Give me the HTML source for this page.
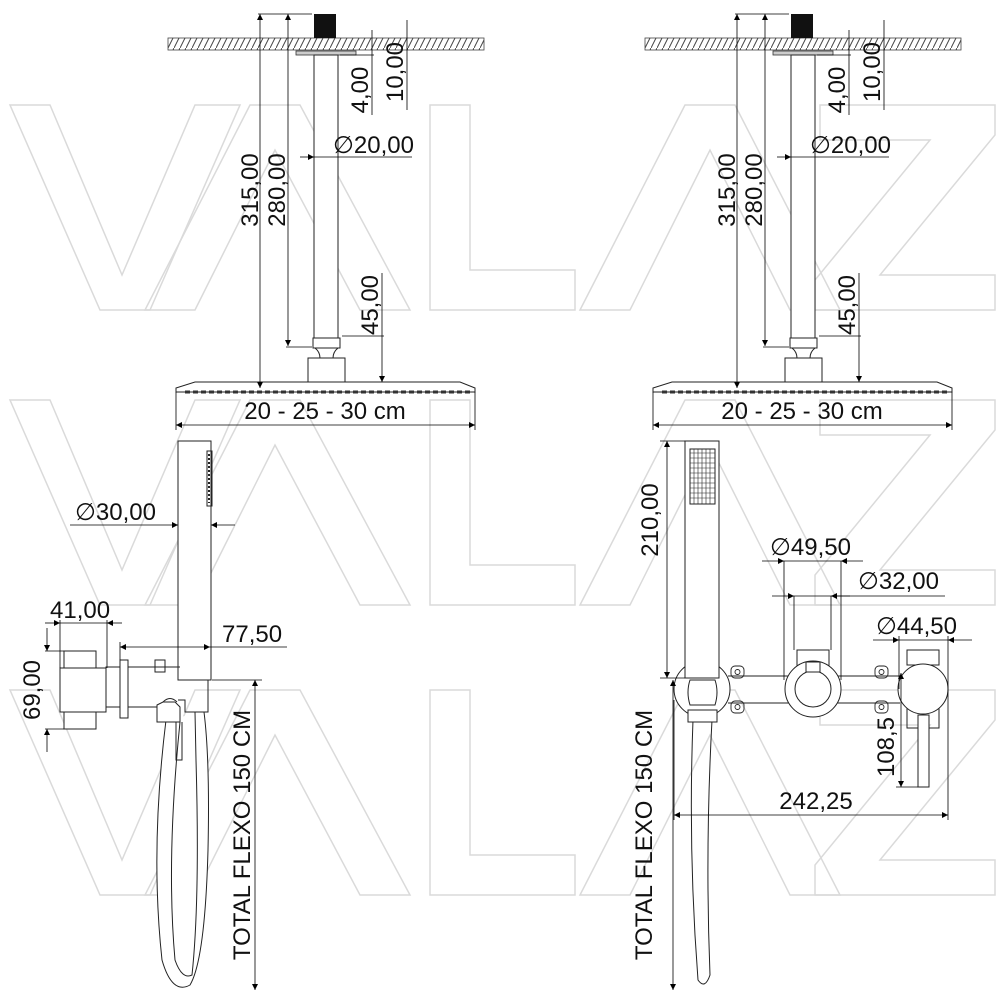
<!DOCTYPE html>
<html><head><meta charset="utf-8"><style>
html,body{margin:0;padding:0;background:#fff;width:1000px;height:1000px;overflow:hidden}
svg{display:block}
text{font-family:"Liberation Sans",sans-serif;fill:#111}
</style></head><body>
<svg width="1000" height="1000" viewBox="0 0 1000 1000" xmlns="http://www.w3.org/2000/svg">
<defs>
<pattern id="h" width="6" height="12" patternUnits="userSpaceOnUse"><path d="M6,0 L0,12" stroke="#444" stroke-width="1"/></pattern>
<marker id="a" viewBox="0 0 10 10" refX="10" refY="5" markerWidth="14" markerHeight="6" orient="auto-start-reverse" markerUnits="userSpaceOnUse"><path d="M0,0 L10,5 L0,10z" fill="#000"/></marker>
<g id="wm" fill="none" stroke="#dadada" stroke-width="1.5">
<polygon points="10,0 50,0 122,170 195,0 240,0 150,205 100,205"/>
<polygon points="145,205 250,0 300,0 410,205 360,205 275,45 195,205"/>
<polygon points="430,0 470,0 470,165 575,165 575,205 430,205"/>
<polygon points="580,205 685,0 735,0 840,205 790,205 710,45 630,205"/>
<polygon points="820,0 995,0 995,30 880,170 995,170 995,205 815,205 815,175 930,35 820,35"/>
</g>
<g id="top">
<rect x="168" y="38" width="316" height="12" fill="url(#h)" stroke="#444" stroke-width="0.8"/>
<rect x="314" y="14" width="22" height="24" fill="#111"/>
<rect x="296" y="51" width="60" height="4" fill="#ccc" stroke="#333" stroke-width="0.8"/>
<g fill="none" stroke="#222" stroke-width="1">
<rect x="314" y="55" width="24" height="283" fill="#fff"/>
<rect x="313" y="338" width="27" height="10"/>
<path d="M315,348 Q320,352 320,358 M338,348 Q333,352 333,358"/>
<rect x="308" y="358" width="37" height="24"/>
<path d="M176,392 L176,388 L195,382 L460,382 L475,388 L475,392 Z"/>
<path d="M185,392 L470,392" stroke-dasharray="5,3" stroke-width="3" stroke="#333"/>
</g>
<g stroke="#000" stroke-width="0.8" fill="none">
<line x1="258" y1="14" x2="312" y2="14"/>
<line x1="260" y1="14" x2="260" y2="388" marker-start="url(#a)" marker-end="url(#a)"/>
<line x1="288" y1="14" x2="288" y2="346" marker-start="url(#a)" marker-end="url(#a)"/>
<line x1="286" y1="347" x2="312" y2="347"/>
<line x1="340" y1="55" x2="374" y2="55"/>
<line x1="372" y1="30" x2="372" y2="115"/>
<line x1="407" y1="20" x2="407" y2="110"/>
<line x1="314" y1="157" x2="412" y2="157"/>
<line x1="300" y1="157" x2="314" y2="157" marker-end="url(#a)"/>
<line x1="342" y1="336" x2="384" y2="336"/>
<line x1="382" y1="273" x2="382" y2="382" marker-end="url(#a)"/>
<line x1="176" y1="392" x2="176" y2="430"/>
<line x1="475" y1="392" x2="475" y2="430"/>
<line x1="176" y1="425" x2="475" y2="425" marker-start="url(#a)" marker-end="url(#a)"/>
</g>
<text x="258" y="190" font-size="24" transform="rotate(-90 258 190)" text-anchor="middle">315,00</text>
<text x="285" y="190" font-size="24" transform="rotate(-90 285 190)" text-anchor="middle">280,00</text>
<text x="368" y="90" font-size="24" transform="rotate(-90 368 90)" text-anchor="middle">4,00</text>
<text x="403" y="72" font-size="24" transform="rotate(-90 403 72)" text-anchor="middle">10,00</text>
<text x="333" y="153" font-size="24">∅20,00</text>
<text x="378" y="305" font-size="24" transform="rotate(-90 378 305)" text-anchor="middle">45,00</text>
<text x="325" y="419" font-size="24" text-anchor="middle">20 - 25 - 30 cm</text>
</g>
</defs>
<use href="#wm" x="0" y="105"/>
<use href="#wm" x="0" y="400"/>
<use href="#wm" x="0" y="690"/>
<use href="#top"/>
<use href="#top" x="477"/>

<!-- bottom left -->
<g fill="none" stroke="#222" stroke-width="1">
<path d="M166,720 Q150,850 162,960 Q172,995 190,985 Q205,960 208,850 Q210,760 204,712" fill="#fff"/>
<path d="M180,722 Q166,860 175,960 Q182,980 192,975 Q200,900 196,760 L195,712"/>
<rect x="178" y="441" width="33" height="239" fill="#fff"/>
<rect x="207" y="451" width="5" height="55"/>
<path d="M209,454 V503" stroke-dasharray="2,2" stroke-width="2"/>
<rect x="64" y="651" width="32" height="17" fill="#fff"/>
<rect x="64" y="712" width="32" height="17" fill="#fff"/>
<rect x="60" y="668" width="46" height="44" fill="#fff"/>
<rect x="106" y="667" width="14" height="40"/>
<rect x="120" y="660" width="8" height="58" fill="#fff"/>
<line x1="128" y1="667" x2="180" y2="667"/>
<line x1="128" y1="707" x2="157" y2="707"/>
<rect x="155" y="660" width="10" height="12"/>
<path d="M178,680 H208 V712 H185 V700 H178"/>
<path d="M157,705 L163,702 L175,702 L180,707 L180,722 L157,722 Z" fill="#fff"/>
<path d="M163,702 Q170,695 177,702"/>
<path d="M176,722 V760 H182 V722"/>
</g>
<g stroke="#000" stroke-width="0.8" fill="none">
<line x1="70" y1="525" x2="178" y2="525" marker-end="url(#a)"/>
<line x1="235" y1="525" x2="211" y2="525" marker-end="url(#a)"/>
<line x1="45" y1="623" x2="60" y2="623" marker-end="url(#a)"/>
<line x1="60" y1="623" x2="107" y2="623"/>
<line x1="122" y1="623" x2="107" y2="623" marker-end="url(#a)"/>
<line x1="60" y1="620" x2="60" y2="668"/>
<line x1="107" y1="620" x2="107" y2="668"/>
<line x1="45" y1="651" x2="64" y2="651"/>
<line x1="45" y1="729" x2="64" y2="729"/>
<line x1="47" y1="628" x2="47" y2="651" marker-end="url(#a)"/>
<line x1="47" y1="752" x2="47" y2="729" marker-end="url(#a)"/>
<line x1="120" y1="647" x2="210" y2="647" marker-start="url(#a)" marker-end="url(#a)"/>
<line x1="210" y1="647" x2="287" y2="647"/>
<line x1="120" y1="642" x2="120" y2="660"/>
<line x1="212" y1="680" x2="262" y2="680"/>
<line x1="255" y1="680" x2="255" y2="990" marker-start="url(#a)" marker-end="url(#a)"/>
</g>
<text x="75" y="520" font-size="24">∅30,00</text>
<text x="50" y="618" font-size="24">41,00</text>
<text x="222" y="642" font-size="24">77,50</text>
<text x="40" y="690" font-size="24" transform="rotate(-90 40 690)" text-anchor="middle">69,00</text>
<text x="250" y="835" font-size="24" transform="rotate(-90 250 835)" text-anchor="middle">TOTAL FLEXO 150 CM</text>

<!-- bottom right -->
<g fill="none" stroke="#222" stroke-width="1">
<path d="M693,720 Q688,850 698,980 Q705,990 710,975 Q705,850 712,720"/>
<line x1="728" y1="676" x2="900" y2="676"/>
<line x1="728" y1="703" x2="900" y2="703"/>
<circle cx="702" cy="689" r="28" fill="#fff"/>
<path d="M690,680 Q686,692 690,705 H715 Q719,692 715,680 Z"/>
<rect x="688" y="710" width="29" height="12" fill="#fff"/>
<rect x="685" y="441" width="34" height="237" fill="#fff"/>
<rect x="690" y="449" width="25" height="55"/>
<path d="M694,449 V504 M698,449 V504 M702,449 V504 M706,449 V504 M710,449 V504 M690,453 H715 M690,458 H715 M690,463 H715 M690,468 H715 M690,473 H715 M690,478 H715 M690,483 H715 M690,488 H715 M690,493 H715 M690,498 H715" stroke-width="0.6"/>
<rect x="797" y="650" width="32" height="25"/>
<circle cx="813" cy="689" r="28" fill="#fff"/>
<circle cx="813" cy="689" r="18"/>
<rect x="806" y="662" width="14" height="10" fill="#fff"/>
<rect x="907" y="650" width="32" height="15"/>
<rect x="907" y="708" width="32" height="20"/>
<circle cx="923" cy="689" r="25" fill="#fff"/>
<rect x="918" y="715" width="11" height="72" fill="#fff"/>
<g stroke-width="0.9">
<rect x="731" y="666" width="13" height="12" rx="4"/><circle cx="737.5" cy="672" r="2.5"/>
<rect x="731" y="701" width="13" height="12" rx="4"/><circle cx="737.5" cy="707" r="2.5"/>
<rect x="875" y="666" width="13" height="12" rx="4"/><circle cx="881.5" cy="672" r="2.5"/>
<rect x="875" y="701" width="13" height="12" rx="4"/><circle cx="881.5" cy="707" r="2.5"/>
</g>
</g>
<g stroke="#000" stroke-width="0.8" fill="none">
<line x1="660" y1="441" x2="685" y2="441"/>
<line x1="667" y1="441" x2="667" y2="678" marker-start="url(#a)" marker-end="url(#a)"/>
<line x1="660" y1="678" x2="685" y2="678"/>
<line x1="673" y1="680" x2="673" y2="990" marker-start="url(#a)" marker-end="url(#a)"/>
<line x1="762" y1="561" x2="784" y2="561" marker-end="url(#a)"/>
<line x1="784" y1="561" x2="841" y2="561"/>
<line x1="863" y1="561" x2="841" y2="561" marker-end="url(#a)"/>
<line x1="784" y1="561" x2="784" y2="680"/>
<line x1="841" y1="561" x2="841" y2="680"/>
<line x1="772" y1="596" x2="794" y2="596" marker-end="url(#a)"/>
<line x1="794" y1="596" x2="831" y2="596"/>
<line x1="945" y1="596" x2="831" y2="596"/>
<line x1="850" y1="596" x2="831" y2="596" marker-end="url(#a)"/>
<line x1="794" y1="596" x2="794" y2="650"/>
<line x1="831" y1="596" x2="831" y2="650"/>
<line x1="873" y1="640" x2="899" y2="640" marker-end="url(#a)"/>
<line x1="899" y1="640" x2="948" y2="640"/>
<line x1="972" y1="640" x2="948" y2="640" marker-end="url(#a)"/>
<line x1="899" y1="636" x2="899" y2="689"/>
<line x1="948" y1="636" x2="948" y2="820"/>
<line x1="901" y1="673" x2="901" y2="787" marker-start="url(#a)" marker-end="url(#a)"/>
<line x1="896" y1="787" x2="918" y2="787"/>
<line x1="674" y1="700" x2="674" y2="820"/>
<line x1="674" y1="815" x2="948" y2="815" marker-start="url(#a)" marker-end="url(#a)"/>
</g>
<text x="658" y="520" font-size="24" transform="rotate(-90 658 520)" text-anchor="middle">210,00</text>
<text x="770" y="555" font-size="24">∅49,50</text>
<text x="858" y="589" font-size="24">∅32,00</text>
<text x="876" y="634" font-size="24">∅44,50</text>
<text x="894" y="747" font-size="24" transform="rotate(-90 894 747)" text-anchor="middle">108,5</text>
<text x="816" y="809" font-size="24" text-anchor="middle">242,25</text>
<text x="652" y="835" font-size="24" transform="rotate(-90 652 835)" text-anchor="middle">TOTAL FLEXO 150 CM</text>
</svg>
</body></html>
